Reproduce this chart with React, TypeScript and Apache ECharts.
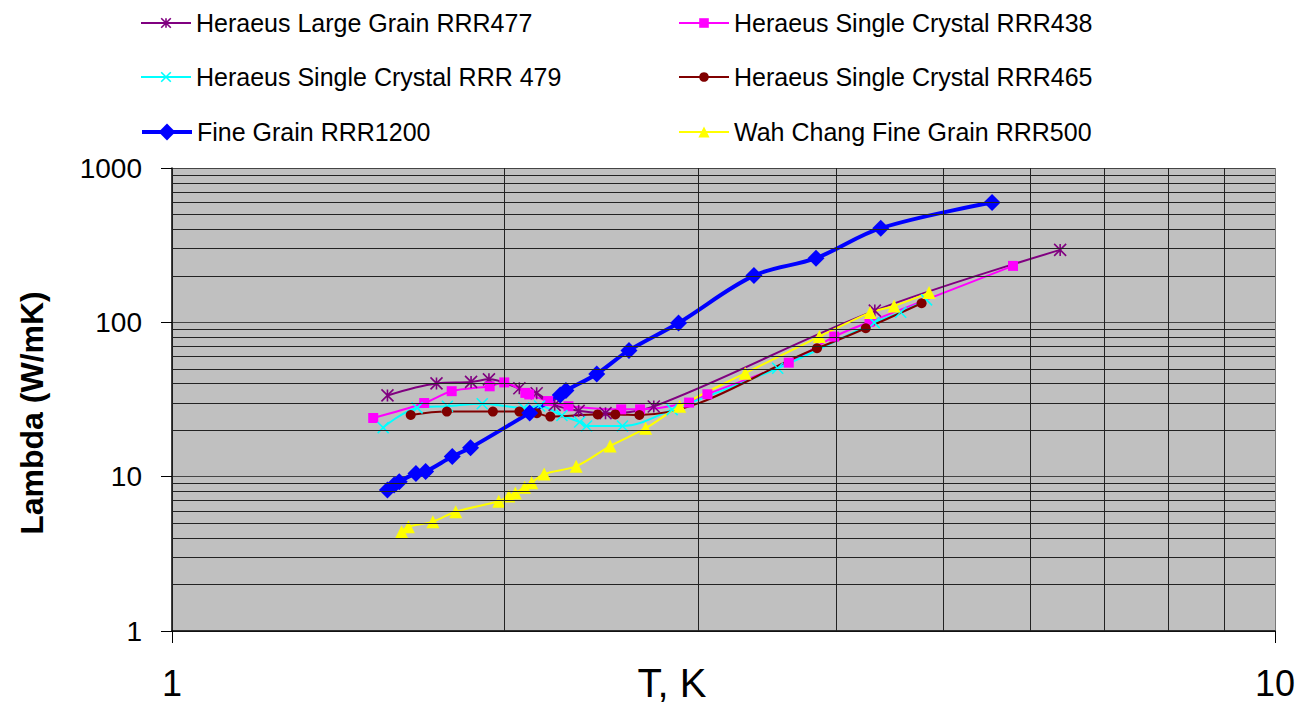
import React, { useEffect, useRef } from "react";
import * as echarts from "echarts";

const FONT = '"Liberation Sans", Arial, sans-serif';

// Series values (T in K, lambda in W/mK)
const LG_NAME = "Heraeus Large Grain RRR477";
const LG_T = [1.568, 1.737, 1.867, 1.938, 2.065, 2.141, 2.223, 2.337, 2.472, 2.734, 4.337, 6.386];
const LG_L = [33.6, 40.2, 41.1, 42.7, 37.4, 34.7, 29.2, 26.7, 25.8, 28.5, 119.1, 294.6];

const SC438_NAME = "Heraeus Single Crystal RRR438";
const SC438_T = [1.522, 1.693, 1.793, 1.941, 2.001, 2.091, 2.108, 2.193, 2.288, 2.554, 2.657, 2.943, 3.058, 3.624, 3.985, 4.289, 5.787];
const SC438_L = [24.0, 30.0, 35.8, 38.5, 40.8, 34.9, 34.1, 30.9, 28.6, 27.3, 27.3, 30.2, 34.2, 54.8, 80.8, 100.6, 232.1];

const SC479_NAME = "Heraeus Single Crystal RRR 479";
const SC479_T = [1.554, 1.668, 1.777, 1.911, 2.084, 2.154, 2.257, 2.342, 2.376, 2.561, 2.841, 3.541, 4.332, 4.578, 4.832];
const SC479_L = [20.8, 27.9, 28.6, 29.7, 27.9, 28.7, 24.9, 22.6, 21.3, 21.3, 27.2, 50.4, 99.5, 116.3, 139.7];

const SC465_NAME = "Heraeus Single Crystal RRR465";
const SC465_T = [1.646, 1.775, 1.954, 2.065, 2.142, 2.203, 2.432, 2.523, 2.653, 3.844, 4.256, 4.782];
const SC465_L = [25.1, 26.4, 26.4, 26.4, 25.8, 24.5, 25.3, 25.3, 25.1, 67.9, 91.6, 133.0];

const FG_NAME = "Fine Grain RRR1200";
const FG_T = [1.568, 1.59, 1.607, 1.664, 1.698, 1.795, 1.865, 2.11, 2.249, 2.276, 2.427, 2.596, 2.879, 3.37, 3.836, 4.391, 5.54];
const FG_L = [8.2, 8.84, 9.28, 10.5, 10.8, 13.5, 15.4, 25.9, 33.8, 36.1, 46.3, 65.8, 99.1, 200.8, 260.3, 407.3, 597];

const WC_NAME = "Wah Chang Fine Grain RRR500";
const WC_T = [1.615, 1.638, 1.724, 1.808, 1.978, 2.02, 2.048, 2.088, 2.119, 2.175, 2.325, 2.496, 2.688, 2.886, 3.309, 3.863, 4.295, 4.515, 4.857];
const WC_L = [4.4, 4.74, 5.11, 5.93, 6.93, 7.5, 7.84, 8.54, 9.14, 10.4, 11.7, 15.8, 20.6, 28.6, 46.8, 80.8, 115.6, 127.7, 155.8];

// Axis ranges and minor grid values
const X_MIN = 1;
const X_MAX = 10;
const Y_MIN = 1;
const Y_MAX = 1000;
const X_MINOR = [2, 3, 4, 5, 6, 7, 8, 9];
const Y_MINOR = [2, 3, 4, 5, 6, 7, 8, 9, 20, 30, 40, 50, 60, 70, 80, 90, 200, 300, 400, 500, 600, 700, 800, 900];

const ASTERISK = "path://M0,0L10,10M0,10L10,0M5,0L5,10";
const CROSS = "path://M0,0L10,10M0,10L10,0";

function pairs(t: number[], l: number[]) {
  return t.map((v, i) => [v, l[i]]);
}

export default function App() {
  const ref = useRef<HTMLDivElement>(null);

  useEffect(() => {
    if (!ref.current) return;
    const chart = echarts.init(ref.current, null, { renderer: "svg" });

    const mkSeries = (
      name: string,
      t: number[],
      l: number[],
      color: string,
      symbol: string,
      symbolSize: number,
      width: number,
      stroked: boolean
    ) => ({
      name,
      type: "line",
      data: pairs(t, l),
      smooth: 0.35,
      symbol,
      symbolSize,
      z: 3,
      lineStyle: { color, width },
      itemStyle: {
        color,
        borderColor: color,
        borderWidth: stroked ? 1.6 : 0,
      },
      emphasis: { disabled: true },
    });

    const legendBase = {
      orient: "horizontal",
      padding: 0,
      itemWidth: 50,
      itemHeight: 12,
      selectedMode: false,
      textStyle: { fontSize: 25, fontFamily: FONT, color: "#000" },
    };

    const option: any = {
      animation: false,
      backgroundColor: "#fff",
      grid: {
        left: 172,
        right: 19,
        top: 168,
        bottom: 73,
        show: true,
        backgroundColor: "#C0C0C0",
        borderWidth: 0,
      },
      legend: [
        { ...legendBase, data: [LG_NAME], left: 140, top: 10.5, itemStyle: { borderWidth: 1.6 } },
        { ...legendBase, data: [SC438_NAME], left: 678, top: 10.5 },
        { ...legendBase, data: [SC479_NAME], left: 140, top: 64.5, itemStyle: { borderWidth: 1.6 } },
        { ...legendBase, data: [SC465_NAME], left: 678, top: 64.5 },
        {
          ...legendBase,
          data: [FG_NAME],
          left: 140,
          top: 119.5,
          itemHeight: 21,
          lineStyle: { width: 4 },
        },
        { ...legendBase, data: [WC_NAME], left: 678, top: 119.5, itemHeight: 14 },
      ],
      xAxis: {
        type: "log",
        logBase: 10,
        min: X_MIN,
        max: X_MAX,
        axisLine: { show: true, lineStyle: { color: "#000", width: 1.5 } },
        axisTick: { show: true, length: 12, lineStyle: { color: "#000" } },
        axisLabel: {
          fontSize: 36,
          fontFamily: FONT,
          color: "#000",
          margin: 34,
          formatter: (v: number) => String(v),
        },
        splitLine: { show: true, lineStyle: { color: "#777", width: 1 } },
      },
      yAxis: {
        type: "log",
        logBase: 10,
        min: Y_MIN,
        max: Y_MAX,
        axisLine: { show: true, lineStyle: { color: "#000", width: 1.5 } },
        axisTick: { show: true, length: 11, lineStyle: { color: "#000" } },
        axisLabel: {
          fontSize: 28,
          fontFamily: FONT,
          color: "#000",
          margin: 30,
          formatter: (v: number) => String(v),
        },
        splitLine: { show: true, lineStyle: { color: "#444", width: 1 } },
      },
      graphic: [
        {
          type: "text",
          x: 32,
          y: 413,
          rotation: Math.PI / 2,
          style: {
            text: "Lambda (W/mK)",
            fontSize: 32,
            fontWeight: "bold",
            fontFamily: FONT,
            fill: "#000",
            align: "center",
            verticalAlign: "middle",
          },
        },
        {
          type: "text",
          x: 672,
          y: 683,
          style: {
            text: "T, K",
            fontSize: 40,
            fontFamily: FONT,
            fill: "#000",
            align: "center",
            verticalAlign: "middle",
          },
        },
      ],
      series: [
        {
          name: "minor-grid",
          type: "line",
          data: [],
          z: 1,
          silent: true,
          markLine: {
            silent: true,
            symbol: "none",
            animation: false,
            label: { show: false },
            lineStyle: { color: "#222", width: 1, type: "solid" },
            emphasis: { disabled: true },
            data: [
              ...X_MINOR.map((v) => ({ xAxis: v })),
              ...Y_MINOR.map((v) => ({ yAxis: v })),
            ],
          },
        },
        mkSeries(LG_NAME, LG_T, LG_L, "#800080", ASTERISK, 12, 2, true),
        mkSeries(SC438_NAME, SC438_T, SC438_L, "#FF00FF", "rect", 10, 2, false),
        mkSeries(SC479_NAME, SC479_T, SC479_L, "#00FFFF", CROSS, 11, 2, true),
        mkSeries(SC465_NAME, SC465_T, SC465_L, "#800000", "circle", 10, 2, false),
        mkSeries(FG_NAME, FG_T, FG_L, "#0000FF", "diamond", 17, 4, false),
        mkSeries(WC_NAME, WC_T, WC_L, "#FFFF00", "triangle", 13, 2, false),
      ],
    };

    chart.setOption(option);
    return () => chart.dispose();
  }, []);

  return (
    <div
      ref={ref}
      style={{ position: "fixed", left: 0, top: 0, width: 1298, height: 704 }}
    />
  );
}
